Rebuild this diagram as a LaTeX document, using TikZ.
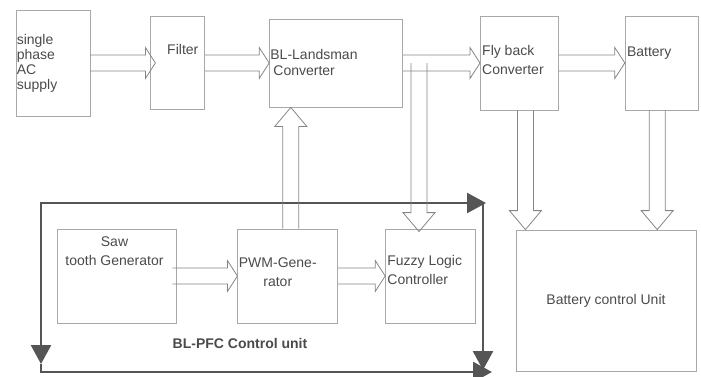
\documentclass[tikz,border=0pt]{standalone}
\usepackage{fontspec}
\setmainfont{Liberation Sans}
\usepackage{tikz}
\usetikzlibrary{arrows.meta,positioning,calc}
\definecolor{cbox}{HTML}{A8A8A8}
\definecolor{carr}{HTML}{858585}
\definecolor{ctext}{HTML}{4A4A4A}
\definecolor{cloop}{HTML}{555555}
\newcommand*\arrhw{8pt}
\newcommand*\arrhh{15.5pt}
\newcommand*\arrhl{10pt}
\tikzset{
  blk/.style={rectangle, draw=cbox, line width=0.8pt, inner sep=0pt},
  txt/.style={font=\fontsize{14}{19}\selectfont, text=ctext, inner sep=1pt, align=left},
  fat/.style={draw=carr, line width=0.8pt, line join=miter, to path={
    ($(\tikztostart)!\arrhw!90:(\tikztotarget)$)
    -- ($(\tikztotarget)!\arrhl!(\tikztostart)!\arrhw!90:(\tikztotarget)$)
    -- ($(\tikztotarget)!\arrhl!(\tikztostart)!\arrhh!90:(\tikztotarget)$)
    -- (\tikztotarget)
    -- ($(\tikztotarget)!\arrhl!(\tikztostart)!\arrhh!-90:(\tikztotarget)$)
    -- ($(\tikztotarget)!\arrhl!(\tikztostart)!\arrhw!-90:(\tikztotarget)$)
    -- ($(\tikztostart)!\arrhw!-90:(\tikztotarget)$)}},
  vfat/.style={fat, /utils/exec={\def\arrhl{19pt}\def\arrhh{16pt}}},
  ctip/.tip={Triangle[length=19pt 0, width=20pt 0]},
  ctl/.style={line width=2.6pt, draw=cloop, line join=miter},
}
\begin{document}
\begin{tikzpicture}[x=1pt, y=-1pt, node distance=60pt]
  \useasboundingbox (0,0) rectangle (701,376);
  % power stage
  \node[blk, minimum width=74pt, minimum height=106pt,
    label={[txt, font=\fontsize{14}{15}\selectfont, anchor=west]west:single\\phase\\AC\\supply}] (sup) at (53,63) {};
  \node[blk, right=60pt of sup, minimum width=54pt, minimum height=93pt,
    label={[txt, anchor=north, xshift=5pt, yshift=-27pt]north:Filter}] (fil) {};
  \node[blk, right=64pt of fil, minimum width=133pt, minimum height=88pt,
    label={[txt, font=\fontsize{14}{16}\selectfont, anchor=north west, yshift=-30pt]north west:BL-Landsman\\\hspace{3pt}Converter}] (lan) {};
  \node[blk, right=77pt of lan, minimum width=78pt, minimum height=94pt,
    label={[txt, anchor=north west, xshift=1pt, yshift=-29pt]north west:Fly back\\Converter}] (fly) {};
  \node[blk, right=66pt of fly, minimum width=73pt, minimum height=94pt,
    label={[txt, anchor=north west, xshift=1pt, yshift=-30pt]north west:Battery}] (bat) {};

  % control stage
  \node[blk, minimum width=119pt, minimum height=94pt,
    label={[txt, align=center, anchor=north, xshift=-2pt, yshift=-7pt]north:Saw\\tooth Generator}] (saw) at (116.5,276) {};
  \node[blk, right=61pt of saw, minimum width=100pt, minimum height=94pt,
    label={[txt, align=center, anchor=north, xshift=-10pt, yshift=-28pt]north:PWM-Gene-\\rator}] (pwm) {};
  \node[blk, right=47pt of pwm, minimum width=90pt, minimum height=94pt,
    label={[txt, anchor=north west, xshift=1pt, yshift=-26pt]north west:Fuzzy Logic\\Controller}] (fuz) {};
  \node[blk, minimum width=180pt, minimum height=141pt,
    label={[txt]center:Battery control Unit}] (bcu) at (606,300.5) {};
  \node[txt, font=\fontsize{14}{17}\selectfont\bfseries] (pfc) at (240,343) {BL-PFC Control unit};

  % control loop frame
  \coordinate (lpTL) at (41,203);
  \coordinate (lpTR) at (486,203);
  \coordinate (lpLm) at (41,364);
  \coordinate (lpBL) at (41,372);
  \coordinate (lpBR) at (492,372);
  \coordinate (lpRm) at (483,370);
  \draw[ctl, ctip-ctip] (lpTR) -- (lpTL) -- (lpLm);
  \draw[ctl, -ctip] (lpLm) -- (lpBL) -- (lpBR);
  \draw[ctl, -ctip] ([xshift=-3pt]lpTR) -- (lpRm);

  % hollow arrows
  \draw[fat] (sup.east) to ([xshift=5pt]fil.west);
  \draw[fat] (fil.east) to (lan.west);
  \draw[fat] (lan.east) to (fly.west);
  \draw[fat] (fly.east) to (bat.west);
  \draw[fat] ([xshift=-4pt]saw.east) to (pwm.west);
  \draw[fat] (pwm.east) to (fuz.west);
  \draw[vfat] ([xshift=16pt]lan.east) to ([xshift=16pt,yshift=-3pt]lan.east |- fuz.north);
  \draw[vfat] ([xshift=3pt]pwm.north) to ([xshift=3pt]pwm.north |- lan.south);
  \draw[vfat] ([xshift=6pt]fly.south) to ([xshift=6pt]fly.south |- bcu.north);
  \draw[vfat] ([xshift=-4.5pt]bat.south) to ([xshift=-4.5pt]bat.south |- bcu.north);
\end{tikzpicture}
\end{document}
